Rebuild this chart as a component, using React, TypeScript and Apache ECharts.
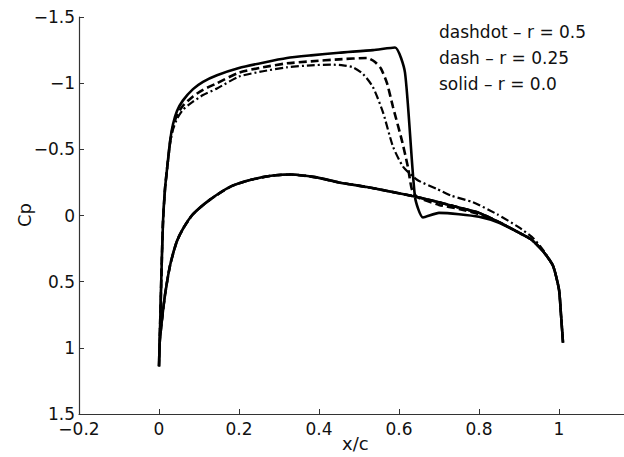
import React, { useEffect, useRef } from "react";
import * as echarts from "echarts";

// Upper-surface Cp for r = 0.0 (solid)
const upperSolid: number[][] = [
  [0, 1.14], [0.003, 0.8], [0.006, 0.45], [0.01, 0.05], [0.015, -0.2], [0.02, -0.35],
  [0.028, -0.57], [0.035, -0.69], [0.045, -0.79], [0.06, -0.87], [0.085, -0.955], [0.11, -1.01],
  [0.145, -1.06], [0.2, -1.115], [0.26, -1.155], [0.32, -1.19], [0.38, -1.21],
  [0.45, -1.23], [0.535, -1.25], [0.59, -1.27], [0.615, -1.08], [0.64, -0.14],
  [0.66, 0.015], [0.7, -0.02], [0.75, -0.01], [0.8, 0.01], [0.85, 0.055],
  [0.9, 0.13], [0.93, 0.18], [0.96, 0.27], [0.985, 0.38], [1.0, 0.56], [1.005, 0.75], [1.01, 0.96],
];

// Upper-surface Cp for r = 0.25 (dash)
const upperDash: number[][] = [
  [0, 1.14], [0.003, 0.8], [0.006, 0.45], [0.01, 0.05], [0.015, -0.2], [0.02, -0.35],
  [0.028, -0.56], [0.035, -0.67], [0.045, -0.76], [0.06, -0.83], [0.085, -0.9], [0.11, -0.95],
  [0.145, -1.0], [0.2, -1.08], [0.26, -1.12], [0.32, -1.15], [0.38, -1.165],
  [0.45, -1.18], [0.52, -1.19], [0.54, -1.16], [0.555, -1.11], [0.57, -1.0],
  [0.585, -0.82], [0.607, -0.57], [0.622, -0.37], [0.632, -0.2], [0.645, -0.14],
  [0.7, -0.08], [0.75, -0.05], [0.8, -0.01], [0.85, 0.05],
  [0.9, 0.13], [0.93, 0.18], [0.96, 0.27], [0.985, 0.38], [1.0, 0.56], [1.005, 0.75], [1.01, 0.96],
];

// Upper-surface Cp for r = 0.5 (dashdot)
const upperDashdot: number[][] = [
  [0, 1.14], [0.003, 0.8], [0.006, 0.45], [0.01, 0.05], [0.015, -0.2], [0.02, -0.34],
  [0.028, -0.55], [0.035, -0.65], [0.045, -0.73], [0.06, -0.8], [0.085, -0.86], [0.11, -0.91],
  [0.145, -0.96], [0.2, -1.05], [0.26, -1.09], [0.32, -1.12], [0.38, -1.135],
  [0.43, -1.14], [0.46, -1.135], [0.485, -1.12], [0.51, -1.07], [0.535, -0.97],
  [0.56, -0.78], [0.585, -0.52], [0.61, -0.37], [0.645, -0.27], [0.695, -0.2],
  [0.73, -0.15], [0.785, -0.1], [0.845, -0.01], [0.9, 0.09], [0.935, 0.17],
  [0.96, 0.26], [0.985, 0.38], [1.0, 0.56], [1.005, 0.75], [1.01, 0.96],
];

// Lower-surface Cp (nearly identical for all three cases)
const lowerSurface: number[][] = [
  [0, 1.14], [0.002, 0.95], [0.007, 0.8], [0.015, 0.6], [0.0275, 0.38], [0.044, 0.2],
  [0.06, 0.1], [0.085, -0.01], [0.1275, -0.12], [0.18, -0.22], [0.23, -0.27],
  [0.28, -0.3], [0.33, -0.31], [0.39, -0.29], [0.45, -0.25], [0.52, -0.215],
  [0.58, -0.18], [0.645, -0.14], [0.7, -0.1], [0.75, -0.06], [0.8, -0.02],
  [0.85, 0.05], [0.9, 0.13], [0.93, 0.18], [0.96, 0.27], [0.985, 0.38],
  [1.0, 0.56], [1.005, 0.75], [1.01, 0.96],
];

const legendLines = ["dashdot \u2013 r = 0.5", "dash \u2013 r = 0.25", "solid \u2013 r = 0.0"];
const xTitle = "x/c";
const yTitle = "Cp";

const FONT = "DejaVu Sans";

function loop(upper: number[][]) {
  return [...lowerSurface.slice().reverse(), ...upper.slice(1)];
}

export default function App() {
  const ref = useRef<HTMLDivElement>(null);
  useEffect(() => {
    if (!ref.current) return;
    document.body.style.margin = "0";
    document.body.style.overflow = "hidden";
    const chart = echarts.init(ref.current, null, { renderer: "svg" });
    const fmt = (v: number) => {
      const s = String(Math.round(v * 100) / 100);
      return s.replace("-", "\u2212");
    };
    chart.setOption({
      animation: false,
      backgroundColor: "#fff",
      grid: { left: 79, top: 17, width: 560, height: 397, containLabel: false, outerBoundsMode: "none" },
      xAxis: {
        type: "value",
        min: -0.2,
        max: 1.2,
        interval: 0.2,
        axisLine: { show: true, onZero: false, lineStyle: { color: "#333", width: 1.2 } },
        axisTick: { show: true, inside: true, length: 5, lineStyle: { color: "#333" } },
        axisLabel: { color: "#111", fontFamily: FONT, fontSize: 17, margin: 6, formatter: fmt, showMaxLabel: false },
        splitLine: { show: false },
      },
      yAxis: {
        type: "value",
        inverse: true,
        min: -1.5,
        max: 1.5,
        interval: 0.5,
        axisLine: { show: true, onZero: false, lineStyle: { color: "#333", width: 1.2 } },
        axisTick: { show: true, inside: true, length: 5, lineStyle: { color: "#333" } },
        axisLabel: { color: "#111", fontFamily: FONT, fontSize: 17, margin: 4, formatter: fmt },
        splitLine: { show: false },
      },
      graphic: [
        ...legendLines.map((t, i) => ({
          type: "text",
          left: 439,
          top: 23 + i * 26,
          style: { text: t, fill: "#111", font: `17px "${FONT}"` },
        })),
        {
          type: "text",
          left: 342,
          top: 434,
          style: { text: xTitle, fill: "#111", font: `18px "${FONT}"` },
        },
        {
          type: "text",
          x: 24,
          y: 215,
          rotation: Math.PI / 2,
          style: { text: yTitle, fill: "#111", font: `18px "${FONT}"`, align: "center", verticalAlign: "middle" },
        },
      ],
      series: [
        {
          type: "line",
          data: loop(upperDashdot),
          showSymbol: false,
          symbol: "none",
          smooth: 0.2,
          lineStyle: { color: "#000", width: 2.2, type: [8, 3, 2, 3] },
        },
        {
          type: "line",
          data: loop(upperDash),
          showSymbol: false,
          symbol: "none",
          smooth: 0.2,
          lineStyle: { color: "#000", width: 2.6, type: [8, 4] },
        },
        {
          type: "line",
          data: loop(upperSolid),
          showSymbol: false,
          symbol: "none",
          smooth: 0.2,
          lineStyle: { color: "#000", width: 2.6, type: "solid" },
        },
      ],
    });
    return () => chart.dispose();
  }, []);
  return <div ref={ref} style={{ width: 624, height: 457 }} />;
}
